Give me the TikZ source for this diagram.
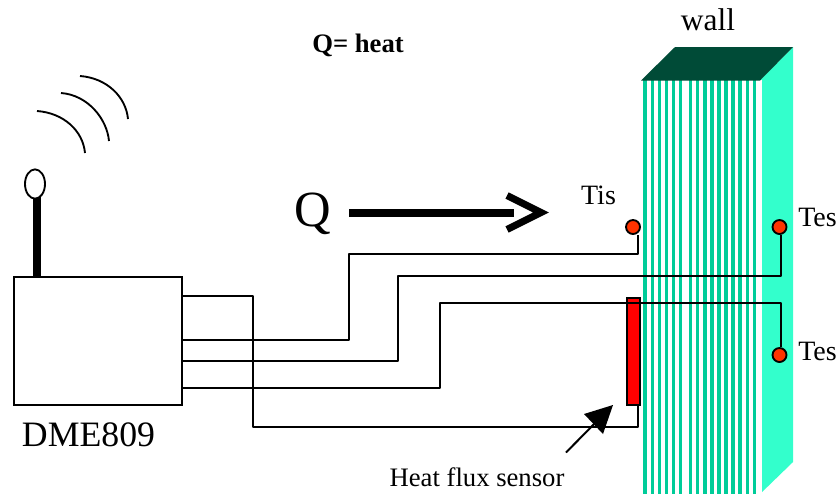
\documentclass[tikz,border=0pt]{standalone}
\usepackage{fontspec}
\usetikzlibrary{shapes.geometric}
\setmainfont{Liberation Serif}
\definecolor{stripe}{RGB}{0,204,153}
\definecolor{side}{RGB}{51,255,204}
\definecolor{wtop}{RGB}{0,75,55}
\definecolor{probe}{RGB}{255,51,0}
\tikzset{
  wire/.style={draw=black,line width=1.4pt,line join=round},
  probedot/.style={circle,draw=black,line width=1.4pt,fill=probe,minimum size=10.5pt,inner sep=0pt},
  antbulb/.style={draw=black,line width=1.4pt,fill=white,ellipse,minimum width=15pt,minimum height=22pt,inner sep=0pt},
  boxnode/.style={draw=black,line width=1.6pt,inner sep=0pt,anchor=north west},
  wave/.style={line width=1.4pt},
  lbl/.style={inner sep=0pt,text=black},
}
\begin{document}
\begin{tikzpicture}[x=0.75pt,y=-0.75pt]
\useasboundingbox (0,0) rectangle (839,494);
% wall
\fill[side] (760,80) -- (793,47) -- (793,462) -- (760,494) -- cycle;
\fill[white] (760,80) rectangle (761.5,494);
\foreach \sx in {643.3,650.5,657.7,664.7,671.7,678.7,689,696,703.3,710.3,717.3,724.3,731.3,738.3,745.7,752.7}
  \fill[stripe] (\sx,80) rectangle (\sx+3.4,494);
\fill[wtop] (641,80.5) -- (675,47) -- (793,47) -- (760,80.5) -- cycle;
% nodes
\node[boxnode,fill=white,minimum width=126pt,minimum height=96pt] (dme) at (12.5,275.5) {};
\node[boxnode,fill=red,minimum width=10.3pt,minimum height=80.5pt] (sensor) at (625.5,296.5) {};
\node[probedot] (tis) at (633,227) {};
\node[probedot] (tes1) at (779.5,227) {};
\node[probedot] (tes2) at (779.5,355) {};
\coordinate (antbase) at (37,276);
\coordinate (anttop) at (37,195);
\coordinate (qa) at (349,212.5);
\coordinate (qb) at (514,212.5);
\coordinate (sa) at (566,452.5);
\coordinate (sb) at (613,405);
% wires
\draw[wire] (dme.east |- 0,340) -- (349,340) -- (349,254) -- (638,254) -- (tis.south -| 638,0);
\draw[wire] (dme.east |- 0,361) -- (398,361) -- (398,276) -- (781,276) -- (tes1.south -| 781,0);
\draw[wire] (dme.east |- 0,388) -- (440,388) -- (440,303) -- (781,303) -- (tes2.north -| 781,0);
\draw[wire] (dme.east |- 0,296) -- (253,296) -- (253,427) -- (638,427) -- (sensor.south -| 638,0);
% antenna
\draw[line width=5.6pt] (antbase) -- (anttop);
\node[antbulb] (ant) at (35,184) {};
% arcs
\draw[wave] (37,111) .. controls (64,113) and (83,131) .. (85,153);
\draw[wave] (61,93) .. controls (88,95) and (107,119) .. (109,141);
\draw[wave] (80,76) .. controls (107,78) and (126,97) .. (128,119);
% Q arrow
\draw[line width=6pt] (qa) -- (qb);
\draw[line width=5.3pt,line join=miter,miter limit=10] (507,195.5) -- (541,212.5) -- (507,229.5);
% sensor arrow
\draw[line width=1.5pt] (sa) -- (600,418);
\fill[black] (sb) -- (603,434) -- (584,414) -- cycle;
% labels
\node[lbl,font=\bfseries\fontsize{20}{24}\selectfont] (heat) at (358,45) {Q= heat};
\node[lbl,font=\fontsize{23.6}{28}\selectfont] (wall) at (708,20) {wall};
\node[lbl,font=\fontsize{38}{44}\selectfont] (q) at (313,214) {Q};
\node[lbl,font=\fontsize{21}{25}\selectfont] (tl) at (598.5,195) {Tis};
\node[lbl,font=\fontsize{21}{25}\selectfont] (t1) at (817.5,217) {Tes};
\node[lbl,font=\fontsize{21}{25}\selectfont] (t2) at (817.5,351) {Tes};
\node[lbl,font=\fontsize{26.8}{32}\selectfont] (dl) at (88.5,435) {DME809};
\node[lbl,font=\fontsize{20}{24}\selectfont] (hf) at (477,477) {Heat flux sensor};
\end{tikzpicture}
\end{document}
